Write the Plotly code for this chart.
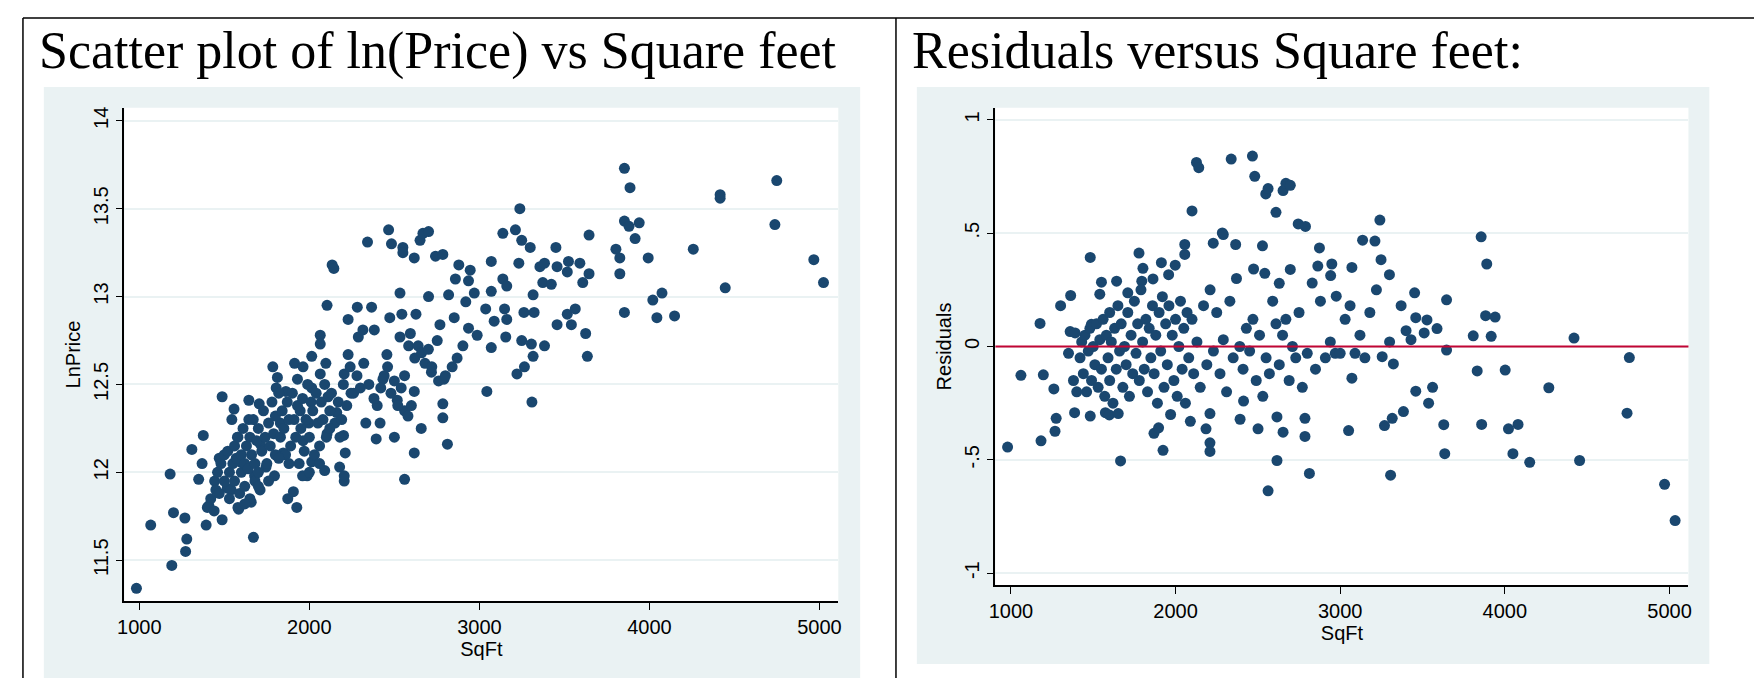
import plotly.graph_objects as go

# ---- Left panel data: SqFt vs LnPrice ----
sqft_l = [983,1067,1191,1201,1181,1268,1279,1272,1309,1349,1376,1369,1393,1487,1487,1409,1443,1470,1544,1557,
 1517,1584,1577,1594,1644,1644,1671,1658,1678,1705,1712,1745,1795,1785,1812,1805,1829,1846,1862,1873,
 1906,1926,1913,1930,1963,1946,1963,1987,2014,2014,1997,2014,2064,2064,2064,2097,2104,2090,2134,2144,
 2110,2104,2161,2178,2205,2205,2211,2201,2205,2228,2228,2245,2282,2288,2315,2332,2342,2366,2382,2399,
 2416,2393,2433,2456,2466,2483,2473,2500,2517,2533,2533,2544,2550,2550,2560,2560,2584,2594,2617,2617,
 2617,2627,2651,2658,2668,2701,2701,2718,2742,2752,2768,2785,2785,2785,2792,2812,2819,2852,2859,2869,
 2879,2903,2920,2936,2946,2936,2970,2987,3037,3044,3070,3070,3070,3087,3138,3138,3148,3155,3161,3161,
 3212,3221,3232,3238,3249,3249,3262,3265,3299,3309,3316,3316,3306,3322,3356,3373,3383,3383,3423,3450,
 3457,3457,3517,3524,3517,3541,3564,3591,3608,3625,3635,3645,3645,3803,3826,3826,3853,3853,3853,3880,
 3886,3916,3940,3993,4020,4044,4074,4148,4258,4416,4416,4446,4738,4749,4967,5024,
 1450,1460,1480,1500,1500,1520,1530,1540,1550,1560,1560,1570,1580,1590,1600,1600,1610,1620,1620,1630,
 1640,1650,1650,1660,1670,1680,1680,1690,1700,1700,1710,1720,1730,1740,1750,1760,1770,1780,1790,1800,
 1800,1820,1830,1840,1850,1860,1870,1880,1890,1900,1910,1920,1930,1940,1950,1960,1970,1980,1990,2000,
 2010,2020,2030,2040,2050,2060,2070,2080,2090,2100,2120,2130,2150,2170,2190,2200,2220,2240,2260,2280,
 2300,2320,2350,2380,2420,2440,2460,2480,2500,2520,2540,2560,2580,2600,2620,2640,2660,2680,2700,2720,
 2760,2800,2840,1420,1400,1440,1470,1530,1580,1620,1700,1760,1820,1880,1960,2000,2060,2120,2180]
lnprice = [11.34,11.70,11.47,11.77,11.99,11.74,11.62,11.55,12.13,11.96,12.21,12.05,11.70,12.43,11.73,11.81,11.95,12.08,12.30,12.36,
 11.91,11.79,12.20,12.06,12.41,12.30,11.63,11.83,11.98,12.39,12.16,12.03,11.98,12.60,12.54,12.48,12.28,12.11,12.46,11.85,
 11.89,11.80,12.62,12.53,12.60,12.35,12.18,11.98,12.66,12.48,12.28,12.06,12.78,12.73,12.56,12.62,12.95,12.01,13.18,13.16,
 12.43,12.22,12.34,12.03,11.95,11.98,12.11,12.21,12.56,12.87,12.67,12.45,12.94,12.77,12.81,12.28,13.31,12.94,12.81,12.38,
 12.28,12.19,12.53,12.67,13.38,13.30,12.88,12.20,12.41,13.02,12.77,12.90,13.28,13.25,11.96,12.35,12.72,12.79,13.22,12.11,
 12.46,12.90,13.32,12.25,13.36,13.37,13.00,12.57,13.23,12.75,12.84,13.24,12.31,12.39,12.53,12.16,13.01,12.88,13.10,12.65,
 13.18,12.72,12.97,13.09,13.15,12.82,13.02,12.78,12.93,12.46,13.20,13.03,12.71,12.86,13.10,13.36,12.93,12.77,13.06,12.87,
 13.38,12.56,13.19,13.50,13.32,12.75,12.91,12.60,13.28,12.40,13.01,12.66,12.73,12.91,13.17,13.08,12.72,13.19,13.07,13.28,
 12.84,13.17,13.14,13.20,12.90,12.84,12.93,13.19,13.08,12.79,12.66,13.35,13.13,13.27,13.22,13.13,13.73,12.91,13.43,13.40,
 13.62,13.33,13.42,13.22,12.98,12.88,13.02,12.89,13.27,13.58,13.56,13.05,13.41,13.66,13.21,13.08,
 11.90,12.00,12.05,12.10,11.95,12.12,12.00,11.90,12.05,12.15,11.95,12.08,12.20,11.88,12.10,12.00,12.25,12.05,11.92,12.15,
 12.02,12.20,11.85,12.10,12.30,11.95,12.05,12.18,12.00,12.25,11.90,12.12,12.35,12.20,12.05,12.28,12.15,12.40,12.22,12.10,
 12.32,12.45,12.20,12.35,12.25,12.10,12.40,12.30,12.15,12.45,12.30,12.20,12.38,12.05,12.25,12.42,12.12,12.30,12.50,12.20,
 12.40,12.35,12.10,12.45,12.28,12.15,12.40,12.30,12.50,12.20,12.35,12.45,12.28,12.40,12.30,12.50,12.38,12.60,12.45,12.55,
 12.48,12.62,12.50,12.42,12.48,12.55,12.60,12.45,12.52,12.38,12.48,12.55,12.32,12.38,12.65,12.72,12.68,12.62,12.70,12.60,
 12.52,12.55,12.60,11.85,11.80,11.78,11.88,11.85,11.80,11.82,11.92,11.95,12.08,12.05,11.98,12.00,12.05,12.25,12.20]

# ---- Right panel data: SqFt vs Residuals ----
sqft_r = [980,1061,1177,1183,1197,1261,1275,1268,1302,1363,1360,1387,1482,1482,1489,1540,1550,1574,1598,1642,
 1652,1666,1710,1778,1795,1802,1863,1869,1897,1914,1924,1958,1998,2056,2056,2090,2100,2127,2141,2185,
 2209,2209,2209,2229,2284,2290,2338,2365,2392,2413,2467,2474,2481,2501,2528,2542,2548,2562,2562,2610,
 2616,2616,2630,2653,2670,2697,2697,2653,2745,2789,2786,2786,2813,2874,2864,2942,2949,2976,3051,3071,
 3071,3136,3211,3241,3248,3255,3269,3299,3306,3316,3323,3384,3452,3459,3459,3527,3537,3561,3588,3629,
 3635,3646,3646,3808,3832,3856,3859,3890,3883,3917,3941,4002,4022,4049,4080,4151,4267,4420,4454,4742,
 4756,4970,5034,
 1420,1430,1440,1450,1460,1470,1480,1490,1500,1510,1520,1530,1540,1550,1560,1570,1580,1590,1600,1600,
 1610,1620,1630,1640,1650,1660,1670,1680,1690,1700,1710,1720,1730,1740,1750,1760,1770,1780,1790,1800,
 1810,1820,1830,1840,1850,1860,1870,1880,1890,1900,1910,1920,1930,1940,1950,1960,1970,1980,1990,2000,
 2010,2020,2030,2040,2050,2060,2070,2080,2100,2110,2130,2150,2170,2190,2210,2230,2250,2270,2290,2310,
 2330,2350,2370,2390,2410,2430,2450,2470,2490,2510,2530,2550,2570,2590,2610,2630,2650,2670,2690,2710,
 2730,2750,2770,2800,2830,2850,2880,2910,2940,2970,3000,3030,3060,3090,3120,3150,3180,3220,3300,3370,
 3400,3430,3510,1350,1380,1400,1390]
resid = [-0.444,-0.127,0.102,-0.416,-0.125,-0.187,-0.317,-0.374,0.180,0.225,0.066,-0.292,0.393,-0.307,0.098,0.231,0.284,-0.292,-0.302,0.288,
 -0.296,-0.505,0.237,0.412,0.288,0.345,0.298,-0.383,-0.359,0.370,-0.458,0.317,0.359,0.450,0.406,-0.330,0.598,0.812,0.789,-0.363,
 -0.425,-0.463,-0.296,0.456,0.501,0.494,0.827,0.450,-0.321,-0.241,0.840,0.342,0.751,-0.363,0.444,0.323,0.673,0.697,-0.637,0.592,
 -0.503,-0.311,0.279,0.688,0.720,0.711,0.340,-0.378,0.541,0.530,-0.397,-0.317,-0.560,0.435,0.355,0.313,0.364,0.222,-0.371,0.349,
 -0.140,0.469,0.465,0.558,0.383,-0.045,-0.349,0.317,-0.568,-0.317,-0.077,-0.287,0.237,0.127,-0.197,0.117,-0.250,-0.180,0.079,-0.345,
 -0.473,0.206,-0.016,0.047,-0.108,0.484,-0.344,0.364,0.136,0.045,0.130,-0.104,-0.363,-0.473,-0.344,-0.511,-0.182,0.037,-0.503,-0.294,
 -0.049,-0.608,-0.768,
 -0.05,0.02,-0.12,0.05,-0.20,-0.02,0.08,-0.15,0.00,-0.08,0.10,-0.18,0.03,-0.10,0.12,-0.22,0.05,-0.05,0.15,-0.15,
 0.02,-0.25,0.08,-0.10,0.18,-0.02,0.10,-0.18,0.00,-0.08,0.15,-0.22,0.05,-0.12,0.20,-0.03,0.10,-0.15,0.25,0.02,
 -0.10,0.12,-0.20,0.08,-0.05,0.18,-0.12,0.05,-0.25,0.15,-0.02,0.22,-0.18,0.10,-0.08,0.18,-0.30,0.05,-0.15,0.12,
 -0.22,0.00,0.20,-0.10,0.08,-0.25,0.15,-0.05,0.12,-0.12,0.02,-0.18,0.18,-0.08,0.25,-0.02,0.15,-0.12,0.03,-0.20,
 0.20,-0.05,0.30,0.00,-0.10,0.08,-0.02,0.12,-0.15,0.05,-0.22,-0.05,-0.12,0.20,0.10,-0.08,0.05,0.12,-0.15,0.00,
 -0.05,0.15,-0.18,-0.03,0.28,-0.10,0.20,-0.05,0.02,-0.03,-0.03,0.12,0.18,-0.03,0.05,-0.05,0.15,0.25,0.02,0.18,
 0.07,0.03,0.06,-0.03,-0.15,-0.20,0.06]

x_ticks = [1000, 2000, 3000, 4000, 5000]
y_ticks_l = [11.5, 12, 12.5, 13, 13.5, 14]
y_ticks_r = [-1, -0.5, 0, 0.5, 1]
y_ticktext_r = ["-1", "-.5", "0", ".5", "1"]

W, H = 1762, 678
navy = "#1a476f"
bgc = "#eaf2f3"

fig = go.Figure()
mk = dict(color=navy, size=11)
fig.add_trace(go.Scatter(x=sqft_l, y=lnprice, mode="markers", marker=mk, xaxis="x", yaxis="y", showlegend=False))
fig.add_trace(go.Scatter(x=sqft_r, y=resid, mode="markers", marker=mk, xaxis="x2", yaxis="y2", showlegend=False))

def px(x): return x / W
def py(y): return 1 - y / H

tickfont = dict(family="Liberation Sans, Arial", size=20, color="black")
axcommon = dict(showline=True, linecolor="black", linewidth=1.5, ticks="outside", ticklen=7,
                tickcolor="black", tickfont=tickfont, zeroline=False, mirror=False)

fig.update_layout(
    width=W, height=H, margin=dict(l=0, r=0, t=0, b=0),
    paper_bgcolor="white", plot_bgcolor="white",
    xaxis=dict(domain=[px(110), px(828)], range=[912, 5111], tickvals=x_ticks, showgrid=False,
               anchor="y", title=dict(text="SqFt", font=tickfont, standoff=0), **axcommon),
    yaxis=dict(domain=[py(593), py(99)], range=[11.267, 14.074], tickvals=y_ticks_l,
               tickangle=-90, showgrid=True, gridcolor=bgc, gridwidth=2, anchor="x",
               title=dict(text="LnPrice", font=tickfont, standoff=4), **axcommon),
    xaxis2=dict(domain=[px(986), px(1683)], range=[906, 5115], tickvals=x_ticks, showgrid=False,
                anchor="y2", title=dict(text="SqFt", font=tickfont, standoff=0), **axcommon),
    yaxis2=dict(domain=[py(577), py(99)], range=[-1.053, 1.053], tickvals=y_ticks_r, ticktext=y_ticktext_r,
                tickangle=-90, showgrid=True, gridcolor=bgc, gridwidth=2, anchor="x2",
                title=dict(text="Residuals", font=tickfont, standoff=4), **axcommon),
)

shapes = [
    dict(type="rect", xref="paper", yref="paper", x0=px(29), x1=px(850), y0=py(674), y1=py(78),
         fillcolor=bgc, line_width=0, layer="below"),
    dict(type="rect", xref="paper", yref="paper", x0=px(907), x1=px(1704), y0=py(656), y1=py(78),
         fillcolor=bgc, line_width=0, layer="below"),
    dict(type="rect", xref="paper", yref="paper", x0=px(110), x1=px(828), y0=py(593), y1=py(99),
         fillcolor="white", line_width=0, layer="below"),
    dict(type="rect", xref="paper", yref="paper", x0=px(986), x1=px(1683), y0=py(577), y1=py(99),
         fillcolor="white", line_width=0, layer="below"),
    dict(type="line", xref="paper", yref="paper", x0=px(8), x1=px(1758), y0=py(9), y1=py(9), line=dict(color="black", width=1.5)),
    dict(type="line", xref="paper", yref="paper", x0=px(8), x1=px(8), y0=py(9), y1=0, line=dict(color="black", width=1.5)),
    dict(type="line", xref="paper", yref="paper", x0=px(886), x1=px(886), y0=py(9), y1=0, line=dict(color="black", width=1.5)),
    dict(type="line", xref="paper", yref="paper", x0=px(1757), x1=px(1757), y0=py(9), y1=0, line=dict(color="black", width=1.5)),
    dict(type="line", xref="x2 domain", yref="y2", x0=0, x1=1, y0=0, y1=0, line=dict(color="#c10534", width=2)),
]
fig.update_layout(shapes=shapes)

tfont = dict(family="Liberation Serif, Times New Roman", size=52, color="black")
fig.add_annotation(text="Scatter plot of ln(Price) vs Square feet", xref="paper", yref="paper",
                   x=px(22), y=py(11), xanchor="left", yanchor="top", showarrow=False, font=tfont)
fig.add_annotation(text="Residuals versus Square feet:", xref="paper", yref="paper",
                   x=px(900), y=py(11), xanchor="left", yanchor="top", showarrow=False, font=tfont)

fig.write_html("out.html")
